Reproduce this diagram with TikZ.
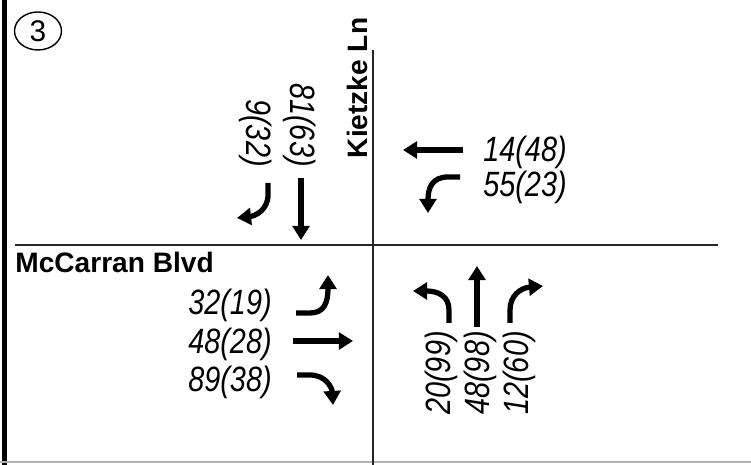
\documentclass[tikz,border=0pt]{standalone}
\usepackage{fontspec}
\setmainfont{Liberation Sans}
\usetikzlibrary{arrows.meta, positioning, shapes.geometric}

\newcommand{\tmc}[1]{\scalebox{0.82}[1]{\itshape #1}}

\begin{document}
\begin{tikzpicture}[x=0.02cm, y=-0.02cm,
    movearrow/.style={line width=3pt, -{Triangle[length=8pt, width=9.5pt]}},
    vollabel/.style={inner sep=0pt, font=\fontsize{20}{22}\selectfont},
    roadlabel/.style={inner sep=0pt, font=\fontsize{16}{18}\selectfont\bfseries}]
        \useasboundingbox (0,0) rectangle (751,465);

        % Frame and road centre lines
        \draw[line width=2.8pt] (4.5,0) -- (4.5,465);
        \draw[line width=1.2pt, gray!60] (0,462) -- (751,462);
        \draw[line width=1.1pt, black!85] (15,245) -- (718,245);
        \draw[line width=1.1pt, black!85] (373,50) -- (373,465);

        % Intersection number
        \node[draw, ellipse, line width=0.8pt, minimum width=0.94cm, minimum height=0.76cm,
              inner sep=0pt, font=\fontsize{17}{18}\selectfont] (num) at (38,31) {3};

        % Street names
        \node[roadlabel, rotate=90] (kietzke) at (357,88) {Kietzke Ln};
        \node[roadlabel, anchor=base west] (mccarran) at (15,273) {McCarran Blvd};

        % Southbound
        \node[vollabel, rotate=-90, anchor=east] (sbt) at (300,167) {\tmc{81(63)}};
        \node[vollabel, rotate=-90, anchor=east] (sbr) at (256,167) {\tmc{9(32)}};
        \draw[movearrow] (301,178) -- (301,240);
        \draw[movearrow] (268,183) -- (268,195) .. controls (268,210) and (255,216) .. (237,218);

        % Westbound
        \node[vollabel, anchor=base west] (wbt) at (483,162) {\tmc{14(48)}};
        \node[vollabel, anchor=base west] (wbl) at (483,197) {\tmc{55(23)}};
        \draw[movearrow] (463,150) -- (403,150);
        \draw[movearrow] (460,177) -- (448,177) .. controls (432,177) and (428,188) .. (428,213);

        % Eastbound
        \node[vollabel, anchor=base east] (ebl) at (272,315) {\tmc{32(19)}};
        \node[vollabel, anchor=base east] (ebt) at (272,354) {\tmc{48(28)}};
        \node[vollabel, anchor=base east] (ebr) at (272,392) {\tmc{89(38)}};
        \draw[movearrow] (296,313) -- (310,313) .. controls (324,313) and (328,303) .. (328,275);
        \draw[movearrow] (293,341) -- (353,341);
        \draw[movearrow] (297,375) -- (310,375) .. controls (326,375) and (332,388) .. (333,405);

        % Northbound
        \node[vollabel, rotate=90, anchor=east] (nbl) at (441,331) {\tmc{20(99)}};
        \node[vollabel, rotate=90, anchor=east] (nbt) at (480,331) {\tmc{48(98)}};
        \node[vollabel, rotate=90, anchor=east] (nbr) at (519,331) {\tmc{12(60)}};
        \draw[movearrow] (449,323) -- (449,310) .. controls (449,296) and (438,291) .. (413,291);
        \draw[movearrow] (477,327) -- (477,266);
        \draw[movearrow] (510,323) -- (510,310) .. controls (510,296) and (520,288) .. (543,286);
    \end{tikzpicture}
\end{document}
